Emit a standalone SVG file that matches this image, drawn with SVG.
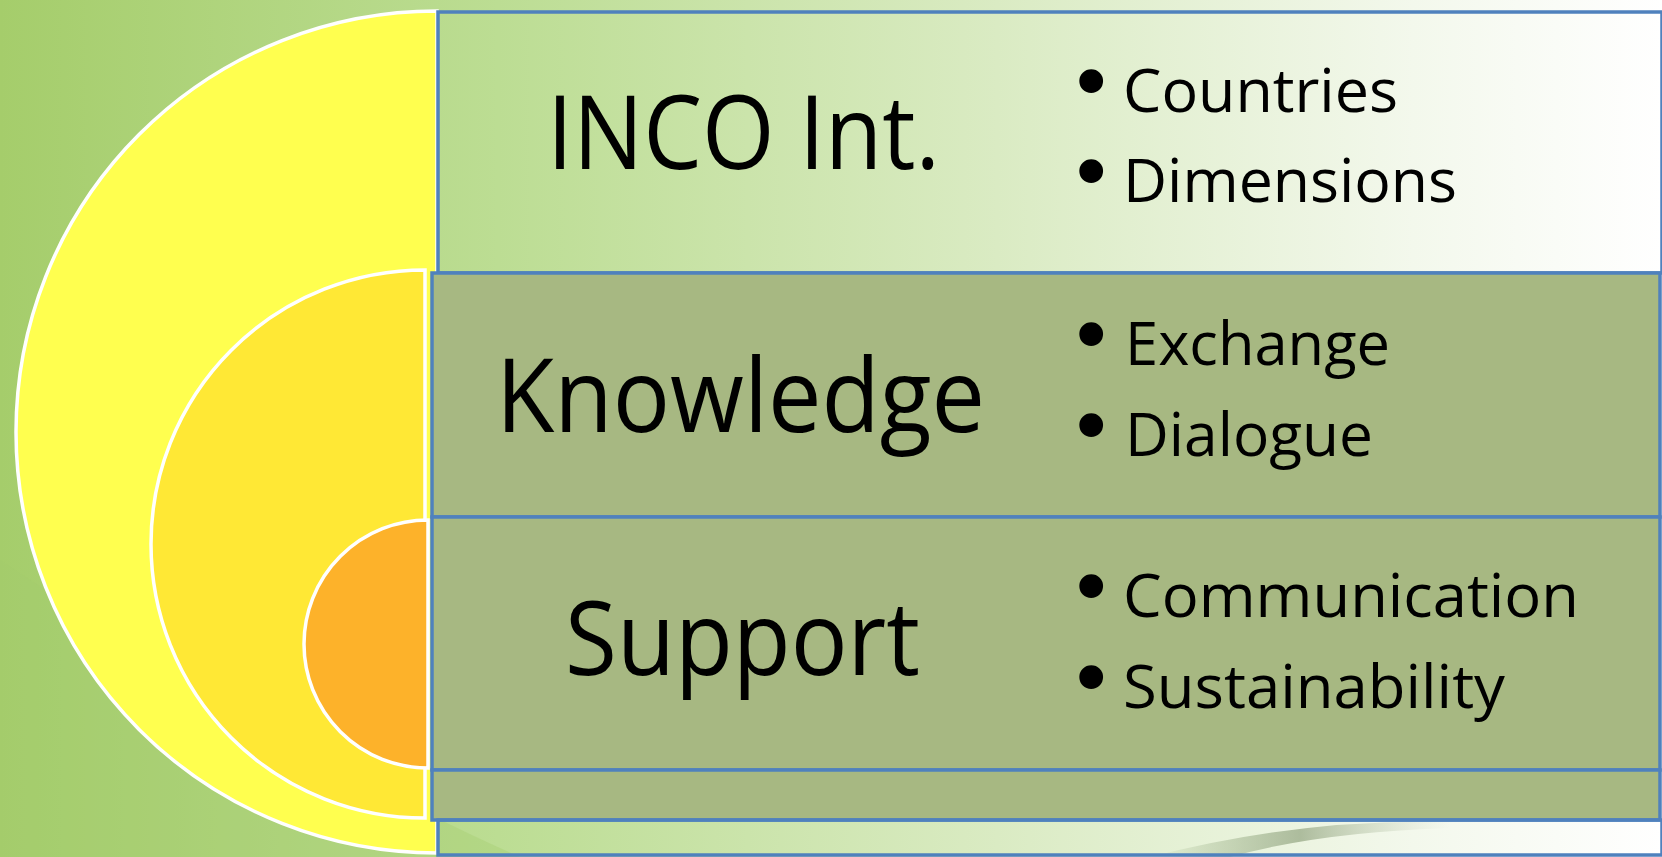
<svg xmlns="http://www.w3.org/2000/svg" width="1662" height="857" viewBox="0 0 1662 857">
<defs>
<linearGradient id="bg" x1="0" y1="0" x2="1662" y2="0" gradientUnits="userSpaceOnUse">
<stop offset="0" stop-color="#A5CD6B"/>
<stop offset="0.3" stop-color="#BCDD93"/>
<stop offset="0.6" stop-color="#DAEBC3"/>
<stop offset="0.85" stop-color="#F3F8EC"/>
<stop offset="1" stop-color="#FFFFFF"/>
</linearGradient>
<linearGradient id="sw" x1="0" y1="0" x2="1" y2="0">
<stop offset="0" stop-color="#8FA87A" stop-opacity="0"/>
<stop offset="0.5" stop-color="#9DAE8C" stop-opacity="0.8"/>
<stop offset="1" stop-color="#C8D2BC" stop-opacity="0"/>
</linearGradient>
<style>
.box{stroke:#4F81BD;stroke-width:3.5}
.dark{fill:#A7B882}
.clear{fill:none}
.arc{stroke:#FFFFFF;stroke-width:3.5}
.title{font-family:"Open Sans","Liberation Sans",sans-serif;fill:#000000}
.item{font-family:"Open Sans","Liberation Sans",sans-serif;font-size:60px;fill:#000000}
.bul{font-family:"DejaVu Sans",sans-serif;font-size:82px}
</style>
</defs>
<rect x="0" y="0" width="1662" height="857" fill="url(#bg)"/>
<path d="M0,560 Q300,760 520,857 L0,857 Z" fill="#A4CB6E" opacity="0.35"/>
<path d="M1150,857 Q1300,818 1450,822 L1450,828 Q1320,832 1230,857 Z" fill="url(#sw)"/>

<g id="ring-outer">
<path class="arc" d="M437,11 A421,421 0 0 0 437,853 Z" fill="#FFFF4F"/>
</g>
<g id="ring-middle">
<path class="arc" d="M425,270 A274,274 0 0 0 425,818 Z" fill="#FFE835"/>
</g>
<g id="ring-inner">
<path class="arc" d="M428,520 A124,124 0 0 0 428,768 Z" fill="#FDB22A"/>
</g>

<g id="connectors"></g>

<g id="node-inco">
<rect class="box clear" x="438" y="12" width="1224" height="261"/>
<text class="title" x="547" y="169" font-size="102" textLength="393" lengthAdjust="spacingAndGlyphs">INCO Int.</text>
<text class="item" y="112"><tspan class="bul" x="1067">•</tspan><tspan x="1123" textLength="275" lengthAdjust="spacingAndGlyphs">Countries</tspan></text>
<text class="item" y="202"><tspan class="bul" x="1067">•</tspan><tspan x="1123" textLength="334" lengthAdjust="spacingAndGlyphs">Dimensions</tspan></text>
</g>

<g id="node-knowledge">
<rect class="box dark" x="432" y="273" width="1228" height="244"/>
<text class="title" x="496" y="432" font-size="102" textLength="489" lengthAdjust="spacingAndGlyphs">Knowledge</text>
<text class="item" y="365"><tspan class="bul" x="1067">•</tspan><tspan x="1125" textLength="265" lengthAdjust="spacingAndGlyphs">Exchange</tspan></text>
<text class="item" y="456"><tspan class="bul" x="1067">•</tspan><tspan x="1125" textLength="248" lengthAdjust="spacingAndGlyphs">Dialogue</tspan></text>
</g>

<g id="node-support">
<rect class="box dark" x="432" y="517" width="1228" height="253"/>
<text class="title" x="565" y="675" font-size="102" textLength="355" lengthAdjust="spacingAndGlyphs">Support</text>
<text class="item" y="617"><tspan class="bul" x="1067">•</tspan><tspan x="1123" textLength="456" lengthAdjust="spacingAndGlyphs">Communication</tspan></text>
<text class="item" y="708"><tspan class="bul" x="1067">•</tspan><tspan x="1123" textLength="382" lengthAdjust="spacingAndGlyphs">Sustainability</tspan></text>
</g>

<g id="node-band">
<rect class="box dark" x="432" y="770" width="1228" height="50"/>
</g>

<g id="node-base">
<rect class="box clear" x="438" y="820" width="1224" height="35"/>
</g>
</svg>
